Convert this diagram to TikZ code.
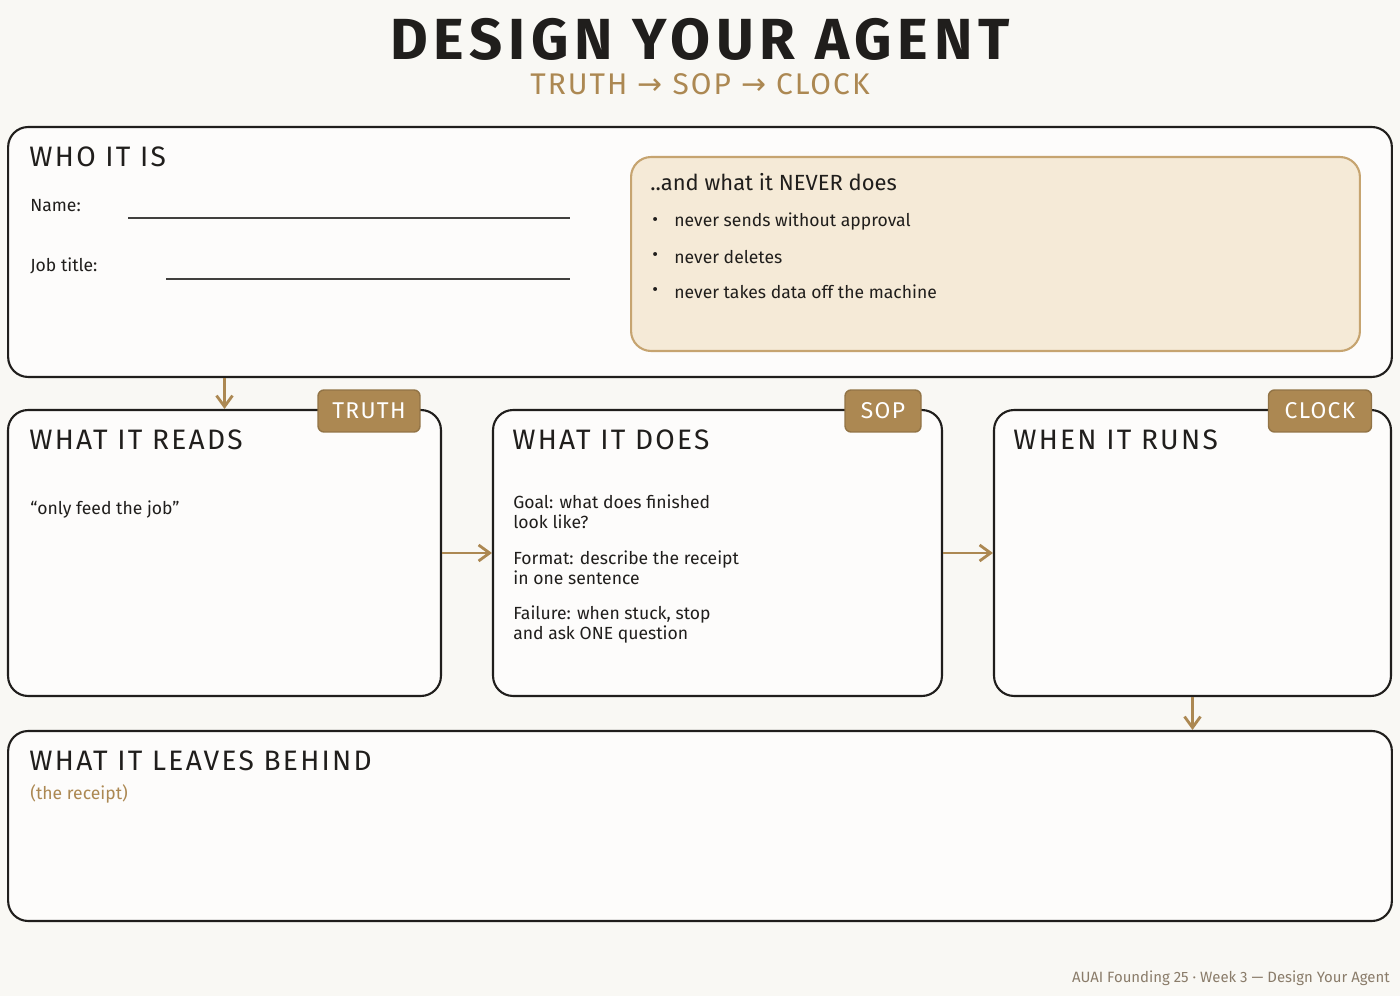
\documentclass[tikz,border=0pt]{standalone}
\usepackage{fontspec}
\setmainfont{Fira Sans}
\newfontfamily\arrowfont{DejaVu Sans}
\usetikzlibrary{arrows.meta, positioning}
\definecolor{paper}{RGB}{249,248,244}
\definecolor{ink}{RGB}{32,30,28}
\definecolor{bronze}{RGB}{172,136,82}
\definecolor{sand}{RGB}{245,234,215}
\definecolor{sandline}{RGB}{198,164,112}
\definecolor{footgray}{RGB}{138,124,106}
\tikzstyle{flow} = [draw=bronze, line width=1.6pt, -{Straight Barb[length=2.2mm, width=3.2mm]}]
\tikzstyle{fillin} = [draw=ink!85, line width=1.3pt]

\begin{document}
\begin{tikzpicture}[
		x=0.02cm, y=-0.02cm,
		panel/.style={rectangle, draw=ink, line width=1.2pt, rounded corners=0.4cm, fill=white!60!paper},
		tag/.style={rectangle, rounded corners=0.12cm, draw=bronze!85!black, line width=0.8pt, fill=bronze, text=white, font=\fontsize{13}{15}\selectfont\addfontfeature{LetterSpace=6}, minimum height=0.84cm, inner sep=0pt},
		heading/.style={font=\fontsize{16}{19}\selectfont\addfontfeature{LetterSpace=8}, text=ink, inner sep=0pt},
		body/.style={font=\fontsize{10}{11.5}\selectfont, text=ink, inner sep=0pt, anchor=west, align=left},
		node distance=0.4cm,
		font=\rmfamily
		]
		% Paper
		\fill[paper] (0,0) rectangle (1400,996);
		% Title
		\node[font=\fontsize{33}{38}\selectfont\bfseries\addfontfeature{LetterSpace=10}, text=ink, inner sep=0pt] (title) at (700,39) {DESIGN YOUR AGENT};
		\node[font=\fontsize{17}{20}\selectfont\addfontfeature{LetterSpace=7}, text=bronze, inner sep=0pt] (subtitle) at (700,84) {TRUTH {\arrowfont →} SOP {\arrowfont →} CLOCK};
		% Who it is
		\node[panel, minimum width=27.68cm, minimum height=5cm] (who) at (700,252) {};
		\node[heading] (whohead) [below right=0.4cm and 0.44cm of who.north west] {WHO IT IS};
		\node[body] (name) at (30,206) {Name:};
		\node[body] (jobtitle) at (30,266) {Job title:};
		\draw[fillin] (128,218) -- (570,218);
		\draw[fillin] (166,279) -- (570,279);
		% Never does
		\node[panel, draw=sandline, fill=sand, minimum width=14.58cm, minimum height=3.88cm] (never) at (995.5,254) {};
		\node[body, font=\fontsize{12.5}{14}\selectfont] (neverhead) at (650,182) {..and what it NEVER does};
		\foreach \y/\t [count=\i] in {222/never sends without approval, 257/never deletes, 292/never takes data off the machine} {
			\node[body] (dot\i) at (652,\y) {\textbullet};
			\node[body] (never\i) at (674,\y) {\t};
		}
		% What it reads
		\node[panel, minimum width=8.66cm, minimum height=5.72cm] (reads) at (224.5,553) {};
		\node[tag, minimum width=2.04cm] (truth) at (369,411) {TRUTH};
		\node[heading] (readshead) [below right=0.4cm and 0.44cm of reads.north west] {WHAT IT READS};
		\node[body] (feed) at (30,510) {“only feed the job”};
		% What it does
		\node[panel, minimum width=8.98cm, minimum height=5.72cm] (does) at (717.5,553) {};
		\node[tag, minimum width=1.52cm] (sop) at (883,411) {SOP};
		\node[heading] (doeshead) [below right=0.4cm and 0.4cm of does.north west] {WHAT IT DOES};
		\node[body, anchor=north west] (goal) at (513,494) {Goal: what does finished\\look like?};
		\node[body, anchor=north west] (format) at (513,550) {Format: describe the receipt\\in one sentence};
		\node[body, anchor=north west] (failure) at (513,605) {Failure: when stuck, stop\\and ask ONE question};
		% When it runs
		\node[panel, minimum width=7.94cm, minimum height=5.72cm] (runs) at (1192.5,553) {};
		\node[tag, minimum width=2.06cm] (clock) at (1320,411) {CLOCK};
		\node[heading] (runshead) [below right=0.4cm and 0.4cm of runs.north west] {WHEN IT RUNS};
		% What it leaves behind
		\node[panel, minimum width=27.68cm, minimum height=3.8cm] (behind) at (700,826) {};
		\node[heading] (behindhead) [below right=0.4cm and 0.44cm of behind.north west] {WHAT IT LEAVES BEHIND};
		\node[body, text=bronze] (receipt) at (30,794) {(the receipt)};
		% Flow
		\draw[flow] (who.south -| reads.north) -- (reads.north);
		\draw[flow] (reads.east) -- (does.west);
		\draw[flow] (does.east) -- (runs.west);
		\draw[flow] (runs.south) -- (behind.north -| runs.south);
		% Footer
		\node[font=\fontsize{8.5}{10}\selectfont, text=footgray, anchor=east, inner sep=0pt] (footer) at (1390,978) {AUAI Founding 25 · Week 3 — Design Your Agent};
	\end{tikzpicture}
\end{document}
